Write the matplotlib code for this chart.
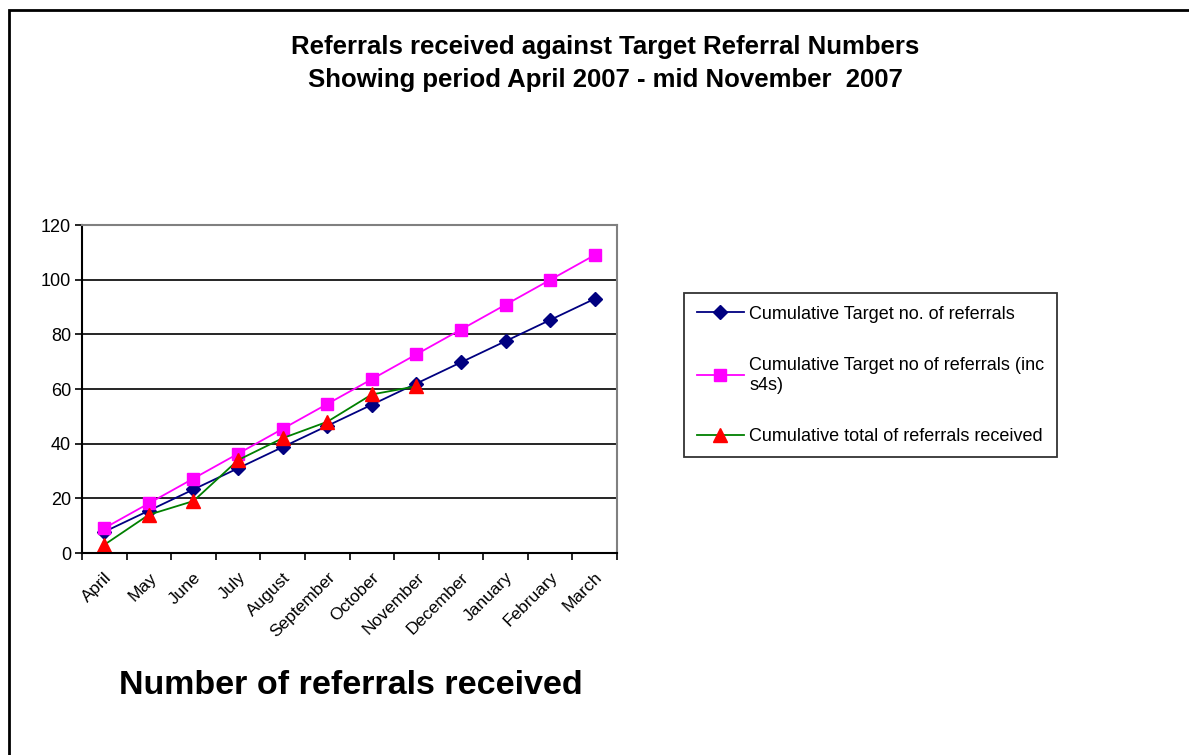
import matplotlib.pyplot as plt
import matplotlib.transforms as mtransforms
import numpy as np
from matplotlib.patches import Rectangle

plt.rcParams['font.family'] = ['Liberation Sans', 'DejaVu Sans']

# Data
months = ['April', 'May', 'June', 'July', 'August', 'September', 'October',
          'November', 'December', 'January', 'February', 'March']
target = [7.75, 15.5, 23.25, 31, 38.75, 46.5, 54.25, 62, 69.75, 77.5, 85.25, 93]
target_s4s = [9.08, 18.17, 27.25, 36.33, 45.42, 54.5, 63.58, 72.67, 81.75,
              90.83, 99.92, 109]
received = [3, 14, 19, 34, 42, 48, 58, 61]

fig = plt.figure(figsize=(11.89, 7.55), dpi=100)
fig.patches.append(Rectangle((8.5 / 1189, -0.1), 1.2, (755 - 10) / 755 + 0.1,
                             transform=fig.transFigure, fill=False,
                             edgecolor='black', linewidth=2))

ax = fig.add_axes([82 / 1189, (755 - 553) / 755, 535 / 1189, 328 / 755])
x = np.arange(len(months))

ax.plot(x, target, color='#000080', marker='D', markersize=7, linewidth=1.3,
        label='Cumulative Target no. of referrals')
ax.plot(x, target_s4s, color='#FF00FF', marker='s', markersize=8, linewidth=1.3,
        label='Cumulative Target no of referrals (inc\ns4s)')
ax.plot(x[:len(received)], received, color='#008000', marker='^',
        markerfacecolor='red', markeredgecolor='red', markersize=10,
        linewidth=1.3, label='Cumulative total of referrals received')

ax.set_xlim(-0.5, len(months) - 0.5)
ax.set_ylim(0, 120)
ax.set_yticks(range(0, 121, 20))
ax.grid(axis='y', color='black', linewidth=1.2)
ax.set_axisbelow(True)
ax.set_xticks(np.arange(-0.5, len(months), 1))
ax.set_xticklabels([])
ax.set_xticks(x, minor=True)
ax.set_xticklabels(months, minor=True, rotation=45, ha='right',
                   rotation_mode='anchor', fontsize=12.5)
shift = mtransforms.ScaledTranslation(-8 / 100, 0, fig.dpi_scale_trans)
for lab in ax.get_xticklabels(minor=True):
    lab.set_transform(lab.get_transform() + shift)
ax.tick_params(axis='x', which='minor', length=0, pad=12)
ax.tick_params(axis='x', which='major', length=5, width=1.2, direction='out')
ax.tick_params(axis='y', length=5, width=1.2, labelsize=13, pad=3)
for s in ['left', 'bottom']:
    ax.spines[s].set_linewidth(1.5)
for s in ['top', 'right']:
    ax.spines[s].set_color('gray')
    ax.spines[s].set_linewidth(1.5)

leg = fig.legend(loc='upper left', bbox_to_anchor=(684 / 1189, 1 - 293 / 755),
                 fontsize=13, frameon=True, fancybox=False, edgecolor='black',
                 handlelength=2.6, labelspacing=1.9, borderpad=0.7,
                 handletextpad=0.3, borderaxespad=0)
leg.get_frame().set_linewidth(1.3)

fig.text(605 / 1189, 1 - 47 / 755, 'Referrals received against Target Referral Numbers',
         ha='center', va='center', fontsize=18.5, fontweight='bold')
fig.text(605 / 1189, 1 - 80 / 755, 'Showing period April 2007 - mid November  2007',
         ha='center', va='center', fontsize=18.5, fontweight='bold')
fig.text(351 / 1189, 1 - 685 / 755, 'Number of referrals received',
         ha='center', va='center', fontsize=24.5, fontweight='bold')

fig.savefig('out.png', dpi=100)
